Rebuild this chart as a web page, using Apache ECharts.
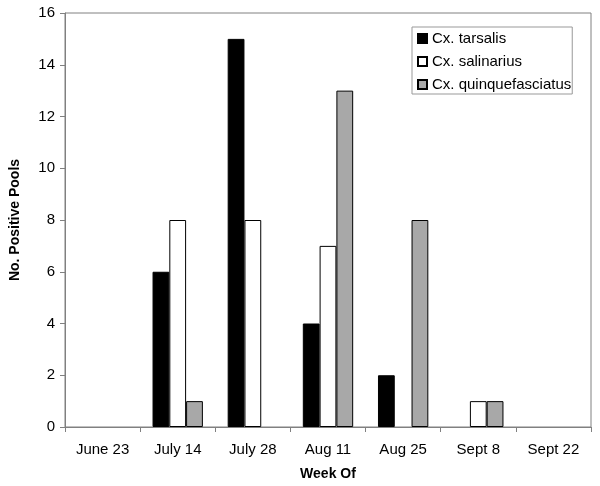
<!DOCTYPE html>
<html><head><meta charset="utf-8">
<script src="https://cdn.jsdelivr.net/npm/echarts@6/dist/echarts.min.js"></script>
<style>html,body{margin:0;padding:0;background:#fff}#c{width:600px;height:486px}</style>
</head><body><div id="c"></div>
<script>
var categories = ['June 23','July 14','July 28','Aug 11','Aug 25','Sept 8','Sept 22'];
var tarsalis = [0, 6, 15, 4, 2, 0, 0];
var salinarius = [0, 8, 8, 7, 0, 1, 0];
var quinque = [0, 1, 0, 13, 8, 1, 0];
var yTicks = [0, 2, 4, 6, 8, 10, 12, 14, 16];

function nz(a){ return a.map(function(v){ return v === 0 ? '-' : v; }); }
var FONT = '"Liberation Sans", Arial, sans-serif';
var chart = echarts.init(document.getElementById('c'), null, {renderer:'canvas'});
function ser(name, data, color){
  return {name:name, type:'bar', data:nz(data), barGap:'0%', barCategoryGap:'33%',
    itemStyle:{color:color, borderColor:'#000', borderWidth:1}};
}
chart.setOption({
  animation:false,
  textStyle:{fontFamily:FONT},
  grid:{left:63, right:9, top:13, bottom:57, show:true, borderColor:'#808080', borderWidth:1, containLabel:false},
  legend:{orient:'vertical', left:412, top:27, backgroundColor:'#fff', borderColor:'#999', borderWidth:1,
    padding:[4,1,2,5], itemWidth:9, itemHeight:9, itemGap:8, icon:'rect',
    textStyle:{fontFamily:FONT, fontSize:15, color:'#000'},
    data:['Cx. tarsalis','Cx. salinarius','Cx. quinquefasciatus']},
  xAxis:{type:'category', data:categories, name:'Week Of', nameLocation:'middle', nameGap:40,
    nameTextStyle:{fontFamily:FONT, fontSize:14, fontWeight:'bold', color:'#000'},
    axisLine:{lineStyle:{color:'#808080'}}, axisTick:{show:true, length:5, lineStyle:{color:'#808080'}},
    axisLabel:{fontFamily:FONT, fontSize:15, color:'#000', margin:15}},
  yAxis:{type:'value', min:yTicks[0], max:yTicks[yTicks.length-1], interval:2, name:'No. Positive Pools', nameLocation:'middle', nameGap:43,
    nameTextStyle:{fontFamily:FONT, fontSize:14, fontWeight:'bold', color:'#000'},
    splitLine:{show:false}, axisLine:{show:true, lineStyle:{color:'#808080'}},
    axisTick:{show:true, length:5, lineStyle:{color:'#808080'}},
    axisLabel:{fontFamily:FONT, fontSize:15, color:'#000', margin:10}},
  series:[ser('Cx. tarsalis', tarsalis, '#000'), ser('Cx. salinarius', salinarius, '#fff'), ser('Cx. quinquefasciatus', quinque, '#a8a8a8')]
});
</script></body></html>
